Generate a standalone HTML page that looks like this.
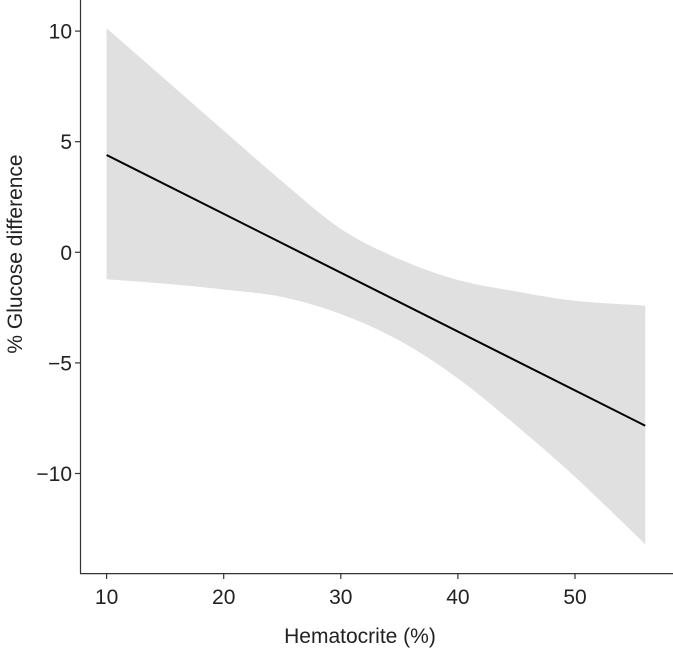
<!DOCTYPE html>
<html><head><meta charset="utf-8"><style>
body{margin:0;background:#fff;}
svg{display:block;font-family:"Liberation Sans",Arial,sans-serif;}
</style></head><body>
<svg id="chart" width="673" height="654" viewBox="0 0 673 654">
<g id="band"></g>
<g id="line"></g>
<g id="axes"></g>
<text x="360" y="643" text-anchor="middle" font-size="21" fill="#222">Hematocrite (%)</text>
<text transform="translate(22,254) rotate(-90)" text-anchor="middle" font-size="21" fill="#222">% Glucose difference</text>
</svg>
<script>
const xs = [10,15,20,25,30,35,40,45,50,56];
const upper = [10.13,7.82,5.5,3.2,1.06,-0.31,-1.25,-1.77,-2.19,-2.41];
const lower = [-1.22,-1.42,-1.68,-2.02,-2.79,-3.99,-5.7,-7.84,-10.15,-13.2];
const lineX = [10,56];
const lineY = [4.4,-7.84];
const xTicks = [10,20,30,40,50];
const yTicks = [10,5,0,-5,-10];
const yTickLabels = ["10","5","0","\u22125","\u221210"];

const NS = "http://www.w3.org/2000/svg";
function X(v){return 106.6 + (v-10)*11.71;}
function Y(v){return 252.3 - v*22.12;}
function mk(tag, attrs, parent){const e=document.createElementNS(NS,tag);for(const k in attrs)e.setAttribute(k,attrs[k]);parent.appendChild(e);return e;}
function smooth(p){
  let d='';
  for(let i=0;i<p.length-1;i++){
    const p0=p[Math.max(0,i-1)],p1=p[i],p2=p[i+1],p3=p[Math.min(p.length-1,i+2)];
    const c1=[p1[0]+(p2[0]-p0[0])/6,p1[1]+(p2[1]-p0[1])/6];
    const c2=[p2[0]-(p3[0]-p1[0])/6,p2[1]-(p3[1]-p1[1])/6];
    d+=' C'+c1.join(',')+' '+c2.join(',')+' '+p2.join(',');
  }
  return d;
}
const band=document.getElementById('band');
const up=xs.map((x,i)=>[X(x),Y(upper[i])]);
const lo=xs.map((x,i)=>[X(x),Y(lower[i])]).reverse();
const d='M'+up[0].join(',')+smooth(up)+' L'+lo[0].join(',')+smooth(lo)+' Z';
const poly=mk('path',{d:d,fill:'#e0e0e0'},band);



const lg=document.getElementById('line');
const ln=mk('line',{x1:X(lineX[0]),y1:Y(lineY[0]),x2:X(lineX[1]),y2:Y(lineY[1]),stroke:'#000','stroke-width':2},lg);



const ax=document.getElementById('axes');
const ya=mk('line',{x1:80.5,y1:0,x2:80.5,y2:574,stroke:'#333','stroke-width':1.2},ax);


const xa=mk('line',{x1:80,y1:573.6,x2:673,y2:573.6,stroke:'#333','stroke-width':1.2},ax);


xTicks.forEach(t=>{
  const tk=mk('line',{x1:X(t),y1:574,x2:X(t),y2:579,stroke:'#333','stroke-width':1.2},ax);
  
  
  const tx=mk('text',{x:X(t),y:604,'text-anchor':'middle','font-size':21,fill:'#222'},ax);
  tx.textContent=t;
  
  
});
yTicks.forEach((t,i)=>{
  const tk=mk('line',{x1:75,y1:Y(t),x2:80.5,y2:Y(t),stroke:'#333','stroke-width':1.2},ax);
  
  
  const tx=mk('text',{x:72,y:Y(t)+7.5,'text-anchor':'end','font-size':21,fill:'#222'},ax);
  tx.textContent=yTickLabels[i];
  
  
});
</script>
</body></html>
